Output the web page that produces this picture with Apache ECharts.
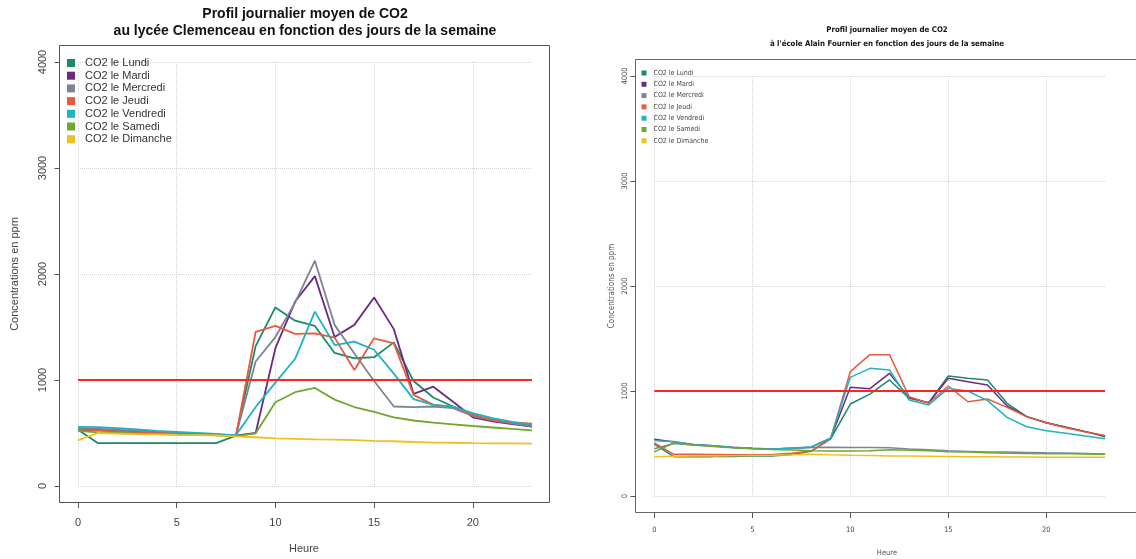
<!DOCTYPE html>
<html>
<head>
<meta charset="utf-8">
<script src="https://cdn.jsdelivr.net/npm/echarts@6/dist/echarts.min.js"></script>
<style>
html,body{margin:0;padding:0;background:#fff;}
#chart{width:1136px;height:559px;}
</style>
</head>
<body>
<div id="chart"></div>
<script>
// ---------- data ----------
const hours = [0,1,2,3,4,5,6,7,8,9,10,11,12,13,14,15,16,17,18,19,20,21,22,23];
const xTickLabels = [0,5,10,15,20];
const seriesNames = ['CO2 le Lundi','CO2 le Mardi','CO2 le Mercredi','CO2 le Jeudi','CO2 le Vendredi','CO2 le Samedi','CO2 le Dimanche'];
const seuilHours = [0,23];
const seuilValues = [1000,1000];

// Lycée Clemenceau (left)
const lundiL    = [530,405,405,405,405,405,405,405,475,1320,1685,1560,1510,1255,1205,1215,1355,990,835,750,670,625,595,565];
const mardiL    = [540,535,525,515,505,498,490,483,475,500,1300,1740,1980,1405,1520,1778,1480,870,937,795,648,610,585,560];
const mercrediL = [545,540,530,520,510,502,494,486,476,1175,1405,1730,2125,1520,1250,990,750,745,750,735,660,620,590,560];
const jeudiL    = [530,522,514,506,499,493,486,480,472,1455,1510,1435,1440,1400,1095,1393,1346,860,765,748,672,625,600,588];
const vendrediL = [558,555,545,533,521,511,501,491,478,745,975,1200,1645,1330,1362,1285,1060,820,765,748,688,640,605,580];
const samediL   = [520,505,500,495,490,486,482,478,470,497,790,885,925,815,745,700,648,618,598,582,566,552,538,525];
const dimancheL = [430,500,495,490,487,483,480,477,468,460,450,445,440,437,433,425,422,415,410,408,405,403,402,400];

// École Alain Fournier (right)
const lundiR    = [495,375,375,375,377,380,382,395,425,545,876,971,1105,930,889,1143,1121,1105,883,756,698,654,613,565];
const mardiR    = [540,515,490,478,465,455,448,455,465,550,1035,1022,1168,937,889,1121,1089,1057,857,756,698,654,613,571];
const mercrediR = [450,500,485,475,462,452,445,455,463,465,463,463,460,448,440,430,425,420,418,415,412,410,405,400];
const jeudiR    = [505,397,397,395,393,392,395,408,428,548,1184,1346,1346,946,883,1048,898,924,844,756,698,650,610,575];
const vendrediR = [525,518,488,478,463,453,446,456,466,552,1130,1216,1200,914,867,1025,1000,908,749,660,622,597,571,546];
const samediR   = [420,505,485,472,460,450,443,438,430,428,428,432,440,436,430,422,418,412,408,405,403,402,400,398];
const dimancheR = [375,378,380,382,384,386,388,392,397,392,388,385,382,380,378,376,374,373,372,371,370,369,369,368];

// ---------- styles ----------
const colors = ['#1b8a6b','#6b2a80','#7d8494','#e85a3c','#1fb2c0','#6fa82e','#f0c020'];
const FONT = "'Liberation Sans', Arial, sans-serif";
const NARROW = "'Liberation Sans Narrow', 'DejaVu Sans Condensed', 'Liberation Sans', sans-serif";

const leftVals  = [lundiL, mardiL, mercrediL, jeudiL, vendrediL, samediL, dimancheL];
const rightVals = [lundiR, mardiR, mercrediR, jeudiR, vendrediR, samediR, dimancheR];

function pairs(xs, ys){ return xs.map((x,i)=>[String(x), ys[i]]); }

const series = [];
[leftVals, rightVals].forEach((vals, gi)=>{
  vals.forEach((v, i)=>{
    series.push({
      name: seriesNames[i], type:'line', xAxisIndex:gi, yAxisIndex:gi,
      data: pairs(hours, v), showSymbol:false, symbol:'none', clip:false,
      lineStyle:{color:colors[i], width: gi===0 ? 1.8 : 1.5},
      itemStyle:{color:colors[i]}, z:2, animation:false
    });
  });
  series.push({
    name:'seuil', type:'line', xAxisIndex:gi, yAxisIndex:gi,
    data: pairs(seuilHours, seuilValues), showSymbol:false, symbol:'none', clip:false,
    lineStyle:{color:'#ff2323', width: gi===0 ? 2.2 : 1.8}, z:3, animation:false
  });
});

const gridLineStyle = {type:'dotted', color:'#d2d2d2', width:1};
const onTick = (idx, val) => xTickLabels.indexOf(Number(val)) >= 0;

function xAxisCfg(gi, offset, fs, font, margin){
  return {gridIndex:gi, type:'category', data:hours.map(String), boundaryGap:false, offset:offset,
    axisLine:{show:false, onZero:false},
    axisTick:{show:true, inside:false, length:5, interval:onTick, lineStyle:{color:'#555', width:1}},
    axisLabel:{interval:onTick, margin:margin, fontSize:fs, color:'#444', fontFamily:font},
    splitLine:{show:true, interval:onTick, lineStyle:gridLineStyle}};
}
function yAxisCfg(gi, offset, fs, font, margin){
  return {gridIndex:gi, type:'value', min:0, max:4000, interval:1000, offset:offset,
    axisLine:{show:false, onZero:false},
    axisTick:{show:true, inside:false, length:5, lineStyle:{color:'#555', width:1}},
    axisLabel:{rotate:90, margin:margin, fontSize:fs, color:'#444', fontFamily:font, formatter:v=>String(v)},
    splitLine:{show:true, lineStyle:gridLineStyle}};
}

const option = {
  backgroundColor:'#ffffff',
  animation:false,
  grid:[
    {left:78, top:62, width:454, height:424},
    {left:654.3, top:76, width:450.8, height:420}
  ],
  xAxis:[ xAxisCfg(0, 17, 11, FONT, 14), xAxisCfg(1, 17, 7.5, NARROW, 13) ],
  yAxis:[ yAxisCfg(0, 18.5, 11, FONT, 11), yAxisCfg(1, 18.8, 7.5, NARROW, 6) ],
  legend:[
    {data:seriesNames, orient:'vertical', left:67, top:57, icon:'rect', itemWidth:8, itemHeight:8,
     itemGap:0.7, padding:0, selectedMode:false,
     textStyle:{fontSize:11, lineHeight:12, color:'#333', fontFamily:FONT, padding:[0,0,0,5]}},
    {data:seriesNames, orient:'vertical', left:641.5, top:68, icon:'rect', itemWidth:5, itemHeight:5,
     itemGap:1.3, padding:0, selectedMode:false,
     textStyle:{fontSize:7, lineHeight:10, color:'#444', fontFamily:NARROW, padding:[0,0,0,2]}}
  ],
  graphic:[
    {type:'rect', shape:{x:59.5, y:45.5, width:490, height:457}, style:{fill:null, stroke:'#555', lineWidth:1}, silent:true, z:-1},
    {type:'rect', shape:{x:635.5, y:59.5, width:503, height:453}, style:{fill:null, stroke:'#666', lineWidth:1}, silent:true, z:-1},
    {type:'text', x:305, y:14, style:{text:'Profil journalier moyen de CO2', font:'bold 14px '+FONT, fill:'#111', textAlign:'center', textVerticalAlign:'middle'}},
    {type:'text', x:305, y:31, style:{text:'au lycée Clemenceau en fonction des jours de la semaine', font:'bold 14px '+FONT, fill:'#111', textAlign:'center', textVerticalAlign:'middle'}},
    {type:'text', x:15, y:274, rotation:Math.PI/2, style:{text:'Concentrations en ppm', font:'11px '+FONT, fill:'#444', textAlign:'center', textVerticalAlign:'middle'}},
    {type:'text', x:304, y:549, style:{text:'Heure', font:'11px '+FONT, fill:'#444', textAlign:'center', textVerticalAlign:'middle'}},
    {type:'text', x:887, y:30, style:{text:'Profil journalier moyen de CO2', font:'bold 7.8px '+NARROW, fill:'#111', textAlign:'center', textVerticalAlign:'middle'}},
    {type:'text', x:887, y:44, style:{text:"à l'école Alain Fournier en fonction des jours de la semaine", font:'bold 7.8px '+NARROW, fill:'#111', textAlign:'center', textVerticalAlign:'middle'}},
    {type:'text', x:612, y:286, rotation:Math.PI/2, style:{text:'Concentrations en ppm', font:'8px '+NARROW, fill:'#555', textAlign:'center', textVerticalAlign:'middle'}},
    {type:'text', x:887, y:553, style:{text:'Heure', font:'7.5px '+NARROW, fill:'#555', textAlign:'center', textVerticalAlign:'middle'}}
  ],
  series: series
};

const chart = echarts.init(document.getElementById('chart'), null, {renderer:'canvas'});
chart.setOption(option);
</script>
</body>
</html>
